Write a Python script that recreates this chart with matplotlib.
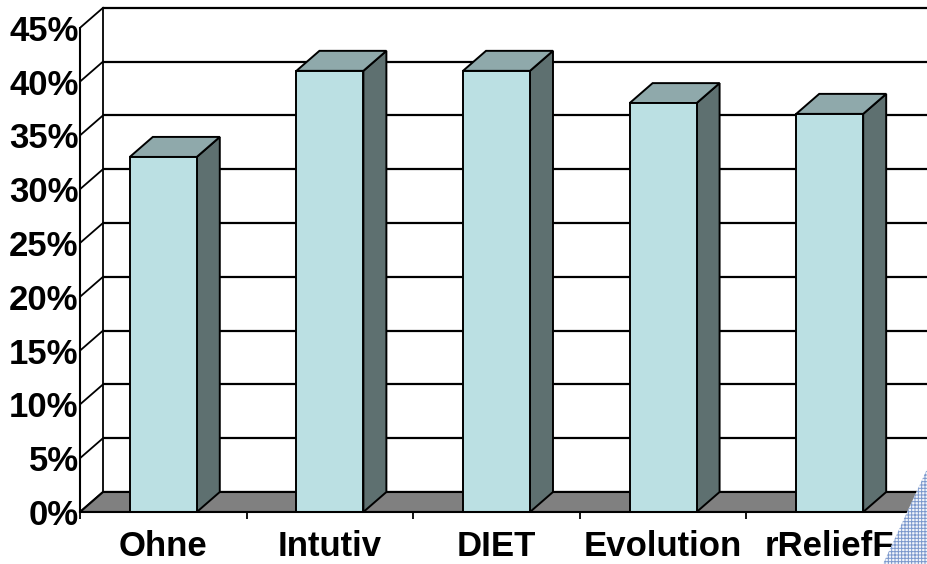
import matplotlib
matplotlib.use("Agg")
from matplotlib import pyplot as plt
from matplotlib.patches import Polygon

# accuracy per feature selection method
categories = ["Ohne", "Intutiv", "DIET", "Evolution", "rReliefF"]
values = [33, 41, 41, 38, 37]
y_ticks = [0, 5, 10, 15, 20, 25, 30, 35, 40, 45]

FRONT = "#bbe0e3"
TOP = "#8fa9ab"
SIDE = "#5e7070"
FLOOR = "#808080"

plt.rcParams["font.family"] = ["Liberation Sans", "DejaVu Sans"]
plt.rcParams["hatch.linewidth"] = 0.7

fig = plt.figure(figsize=(9.28, 5.64), dpi=100)

# decorative hatched corner behind the chart
corner = Polygon([(883 / 928, 0), (1.0, 97 / 564), (1.0, 0)], closed=True,
                 transform=fig.transFigure, facecolor="#f2f5fb",
                 edgecolor="#7b98cc", lw=0, hatch="+++++", zorder=0)
fig.patches.append(corner)

ax = fig.add_axes([80 / 928, 52 / 564, 848 / 928, 512 / 564])
ax.patch.set_visible(False)
ax.set_xlim(-0.5, -0.5 + 848 / 166.6)
ax.set_ylim(0, 512 / 10.76)

# depth offset of the pseudo-3d wall and bars, in data units
dx = 23 / 166.6
dy = 20 / 10.76
bar_w = 0.402
x_right = ax.get_xlim()[1]
n = len(categories)

# back wall: gridlines and the diagonals leading to the front axis
for v in y_ticks:
    ax.plot([-0.5 + dx, x_right], [v + dy, v + dy], color="black", lw=1.6,
            zorder=1, solid_capstyle="butt")
    ax.plot([-0.5, -0.5 + dx], [v, v + dy], color="black", lw=1.3, zorder=1)
ax.plot([-0.5 + dx, -0.5 + dx], [dy, y_ticks[-1] + dy], color="black",
        lw=1.3, zorder=1)

# floor
ax.add_patch(Polygon([(-0.5, 0), (n - 0.5, 0), (n - 0.5 + dx, dy),
                      (-0.5 + dx, dy)], closed=True, facecolor=FLOOR,
                     edgecolor="black", lw=1.5, zorder=2))

# bars: front, side and top faces
for i, v in enumerate(values):
    x0 = i - bar_w / 2
    x1 = i + bar_w / 2
    ax.add_patch(Polygon([(x1, 0), (x1 + dx, dy), (x1 + dx, v + dy), (x1, v)],
                         closed=True, facecolor=SIDE, edgecolor="black",
                         lw=1.4, zorder=3))
    ax.add_patch(Polygon([(x0, v), (x1, v), (x1 + dx, v + dy), (x0 + dx, v + dy)],
                         closed=True, facecolor=TOP, edgecolor="black",
                         lw=1.4, zorder=3))
    ax.add_patch(Polygon([(x0, 0), (x1, 0), (x1, v), (x0, v)],
                         closed=True, facecolor=FRONT, edgecolor="black",
                         lw=1.4, zorder=4))

for side in ["top", "right"]:
    ax.spines[side].set_visible(False)
ax.spines["left"].set_bounds(0, y_ticks[-1])
ax.spines["bottom"].set_bounds(-0.5, n - 0.5)
for side in ["left", "bottom"]:
    ax.spines[side].set_linewidth(1.5)
    ax.spines[side].set_zorder(5)

ax.set_yticks(y_ticks)
ax.set_yticklabels([f"{v}%" for v in y_ticks], fontsize=25, fontweight="bold")
ax.tick_params(axis="y", length=0, pad=1)

ax.set_xticks(range(n))
ax.set_xticklabels(categories, fontsize=25, fontweight="bold")
ax.set_xticks([i - 0.5 for i in range(n + 1)], minor=True)
ax.tick_params(axis="x", which="major", length=0, pad=13)
ax.tick_params(axis="x", which="minor", length=5, width=1.3, direction="out")

fig.savefig("out.png", dpi=100)
